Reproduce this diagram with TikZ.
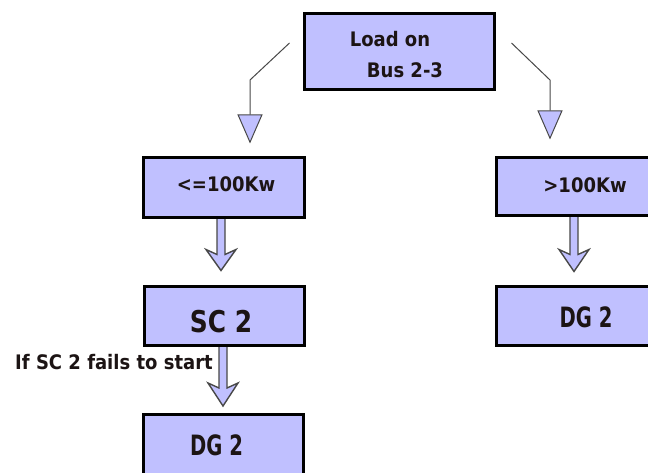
\documentclass[tikz,border=0pt]{standalone}
\usepackage{fontspec}
\setmainfont{DejaVu Sans}[FakeStretch=0.9]
\newfontfamily\bigfont{DejaVu Sans}[FakeStretch=0.83]
\newfontfamily\dgfont{DejaVu Sans}[FakeStretch=0.70]
\usetikzlibrary{arrows.meta,calc,backgrounds}

\definecolor{lav}{RGB}{192,192,255}
\definecolor{ink}{RGB}{28,20,20}
\definecolor{wire}{RGB}{72,72,72}

% hollow block arrow with a swept-back head, from the bottom of one box
% towards the top of the next
% #1 source node, #2 target node, #3 x offset, #4 gap above target, #5 head length
\newcommand\blockarrow[5]{%
  \path[fill=lav,draw=wire,line width=1.4pt,line join=miter]
    let \p1=($(#1.south)+(#3,0)$), \p2=($(#2.north)+(#3,-#4)$) in
    (\x1-4pt,\y1) -- (\x1-4pt,\y2+#5-5pt) -- (\x1-15pt,\y2+#5) -- (\x1,\y2)
    -- (\x1+15pt,\y2+#5) -- (\x1+4pt,\y2+#5-5pt) -- (\x1+4pt,\y1) -- cycle;}

\begin{document}
\begin{tikzpicture}[x=1pt,y=-1pt,
  box/.style={draw=black,line width=3pt,fill=lav,inner sep=0pt,outer sep=0pt},
  txt/.style={text=ink,font=\fontsize{20}{22}\selectfont\bfseries,inner sep=0pt,anchor=base},
  conn/.style={draw=wire,line width=1pt,-{Triangle[length=29pt,width=25pt,fill=lav]}}]

  \useasboundingbox (0,0) rectangle (648,473);
  \clip (0,0) rectangle (648,473);

  % boxes
  \node[box,minimum width=190pt,minimum height=76pt] (top) at (399.5,51.5) {};
  \node[box,minimum width=161pt,minimum height=60pt] (le) at (224,187.5) {};
  \node[box,minimum width=160pt,minimum height=59pt] (sc) at (224.5,316) {};
  \node[box,minimum width=160pt,minimum height=80pt] (dgl) at (223.5,454) {};
  \node[box,minimum width=177pt,minimum height=58pt] (gt) at (585,186.5) {};
  \node[box,minimum width=177pt,minimum height=59pt] (dgr) at (585,316) {};

  % texts
  \node[txt] (t1) at (390,47) {Load on};
  \node[txt] (t2) at (405,78) {Bus 2-3};
  \node[txt] (t3) at (226,192) {<=100Kw};
  \node[txt] (t4) at (585,193) {>100Kw};
  \node[txt,font=\fontsize{30}{32}\bigfont\bfseries] (t5) at (221,332) {SC 2};
  \node[txt,font=\fontsize{28}{30}\dgfont\bfseries] (t6) at (586,327) {DG 2};
  \node[txt,font=\fontsize{28}{30}\dgfont\bfseries] (t7) at (216.5,455) {DG 2};
  \node[txt] (t8) at (114,369) {If SC 2 fails to start};

  % branches leaving the load box
  \coordinate (ls) at ($(top.west)+(-15,-8.5)$);
  \coordinate (lb) at (250,80);
  \coordinate (lt) at ($(le.north)+(26,-14)$);
  \coordinate (rs) at ($(top.east)+(17,-8.5)$);
  \coordinate (rb) at (550,80);
  \coordinate (rt) at ($(gt.north)+(-35,-18)$);
  \draw[conn] (ls) -- (lb) -- (lt);
  \draw[conn] (rs) -- (rb) -- (rt);

  % white page, then block arrows between stacked boxes, all behind the boxes
  \begin{scope}[on background layer]
    \fill[white] (0,0) rectangle (648,473);
    \blockarrow{le}{sc}{-3}{16}{21pt}
    \blockarrow{sc}{dgl}{-1.5}{8}{23pt}
    \blockarrow{gt}{dgr}{-11}{15}{22pt}
  \end{scope}
\end{tikzpicture}
\end{document}
